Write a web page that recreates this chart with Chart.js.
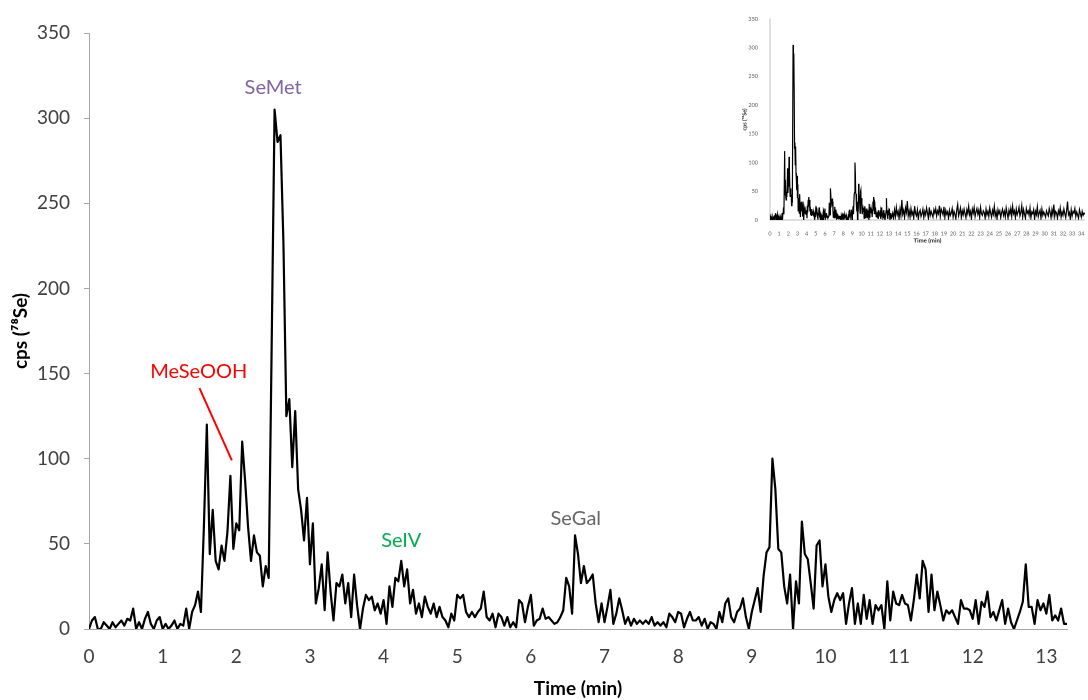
<!DOCTYPE html>
<html>
<head>
<meta charset="utf-8">
<title>Se speciation chromatogram</title>
<script src="https://cdn.jsdelivr.net/npm/chart.js@4.4.1/dist/chart.umd.min.js"></script>
<style>
  body { margin: 0; background: #fff; overflow: hidden; }
  #wrap { position: relative; width: 1088px; height: 700px; overflow: hidden; }
  #main { position: absolute; left: 0; top: 0; }
  /* overview is drawn at 2x and shrunk, so its tiny text stays legible */
  #overview { position: absolute; left: 735px; top: 5px; transform: scale(0.5); transform-origin: 0 0; }
</style>
</head>
<body>
<div id="wrap">
  <canvas id="main" width="1088" height="700"></canvas>
  <canvas id="overview" width="712" height="490"></canvas>
</div>
<script>
// ------------------------------------------------------------
// 78Se ICP-MS trace, 0–13.3 min, with full-run overview inset
// ------------------------------------------------------------

// sampling grid of the detector trace (min)
const STEP = 0.04;

// cps readings, one row per minute (25 samples each)
const cps = [
  0, 5, 7, 0, 0, 4, 2, 0, 4, 1, 3, 5, 2, 6, 5, 12, 0, 4, 0, 6, 10, 3, 0, 5, 7,                 // 0
  0, 3, 0, 2, 5, 0, 3, 2, 12, 0, 10, 14, 22, 10, 60, 120, 44, 70, 40, 35, 49, 40, 57, 90, 47,  // 1
  62, 58, 110, 87, 60, 40, 55, 45, 43, 25, 37, 30, 165, 305, 286, 290, 227, 125, 135, 95, 128, 82, 70, 52, 77, // 2
  38, 62, 15, 24, 38, 11, 45, 22, 5, 27, 25, 32, 15, 27, 7, 32, 14, 0, 12, 20, 17, 19, 11, 15, 9, // 3
  17, 3, 25, 13, 30, 28, 40, 25, 35, 15, 23, 9, 15, 7, 19, 13, 9, 15, 7, 13, 7, 5, 1, 9, 5,    // 4
  20, 18, 20, 10, 7, 10, 7, 10, 12, 22, 7, 5, 9, 1, 9, 7, 2, 7, 1, 4, 1, 17, 15, 4, 13,        // 5
  20, 2, 5, 6, 12, 6, 7, 5, 3, 4, 7, 11, 30, 25, 9, 55, 44, 27, 37, 27, 29, 32, 15, 4, 15,     // 6
  4, 13, 23, 3, 9, 18, 11, 3, 7, 2, 6, 3, 5, 3, 5, 3, 7, 2, 4, 2, 4, 1, 9, 7, 4,               // 7
  10, 9, 1, 6, 10, 5, 5, 7, 2, 6, 0, 4, 3, 0, 10, 4, 15, 18, 7, 4, 10, 12, 18, 7, 0,           // 8
  10, 17, 24, 10, 31, 45, 48, 100, 82, 47, 45, 25, 15, 32, 0, 28, 15, 63, 44, 41, 27, 12, 49, 52, 25, // 9
  38, 19, 10, 17, 21, 17, 21, 3, 15, 24, 3, 15, 3, 20, 6, 17, 3, 14, 11, 14, 0, 28, 5, 22, 15, // 10
  14, 20, 15, 14, 5, 17, 32, 18, 40, 35, 10, 32, 11, 22, 14, 5, 11, 9, 11, 7, 3, 17, 12, 12, 11, // 11
  6, 17, 3, 16, 13, 22, 7, 10, 5, 11, 17, 3, 12, 4, 0, 5, 10, 16, 38, 13, 13, 3, 17, 11, 15,   // 12
  9, 20, 5, 8, 5, 12, 3, 3                                                                      // 13
];

// rest of the run for the overview (13.4–34.4 min, every 0.1 min)
const TAIL_START = 13.4;
const TAIL_STEP = 0.1;
const cpsTail = [
  12, 3, 18, 6, 22, 9, 15, 2, 19, 8,
  35, 10, 17, 4, 21, 13, 33, 7, 16, 5,
  20, 9, 14, 3, 24, 11, 7, 18, 2, 13,
  17, 6, 11, 19, 4, 15, 9, 21, 12, 3,
  22, 8, 15, 10, 5, 18, 12, 20, 7, 16,
  11, 25, 6, 19, 14, 9, 23, 4, 17, 10,
  14, 3, 17, 8, 12, 20, 5, 15, 10, 2,
  18, 27, 7, 13, 21, 4, 16, 9, 19, 11,
  4, 18, 11, 24, 9, 15, 2, 19, 12, 22,
  6, 14, 20, 10, 17, 4, 22, 11, 8, 16,
  13, 3, 19, 9, 15, 6, 21, 12, 5, 17,
  10, 24, 7, 14, 2, 18, 11, 16, 4, 13,
  19, 8, 15, 5, 21, 12, 3, 17, 10, 20,
  6, 24, 11, 16, 4, 19, 9, 14, 22, 7,
  13, 25, 5, 18, 10, 3, 20, 12, 16, 8,
  21, 4, 14, 11, 18, 2, 15, 9, 23, 6,
  12, 17, 3, 19, 8, 14, 10, 5, 16, 11,
  7, 20, 13, 4, 18, 9, 27, 6, 15, 12,
  3, 16, 10, 21, 5, 14, 8, 19, 11, 4,
  17, 32, 9, 13, 2, 18, 7, 15, 12, 20,
  6, 14, 9, 3, 18, 11, 5, 15, 8, 12, 10
];

// species labels (time, cps) and their colours
const peakLabels = [
  { text: 'SeMet',   color: '#8064A2', t: 2.50, v: 318 },
  { text: 'MeSeOOH', color: '#FF0000', t: 1.49, v: 151 },
  { text: 'SeIV',    color: '#00B050', t: 4.24, v: 52 },
  { text: 'SeGal',   color: '#666666', t: 6.61, v: 65 },
];
// MeSeOOH pointer line, label -> shoulder
const pointer = [{ t: 1.50, v: 141.5 }, { t: 1.94, v: 99 }];

const FONT = 'Lato, "Open Sans", "DejaVu Sans", sans-serif';
Chart.defaults.font.family = FONT;

const mainPoints = cps.map((v, i) => ({ x: i * STEP, y: v }));
const overviewPoints = mainPoints.concat(cpsTail.map((v, i) => ({ x: TAIL_START + i * TAIL_STEP, y: v })));

const peakLabelPlugin = {
  id: 'peakLabels',
  afterDatasetsDraw(chart) {
    const { ctx, scales: { x, y } } = chart;
    ctx.save();
    ctx.font = '20px ' + FONT;
    ctx.textAlign = 'center';
    ctx.textBaseline = 'middle';
    peakLabels.forEach(p => {
      ctx.fillStyle = p.color;
      ctx.fillText(p.text, x.getPixelForValue(p.t), y.getPixelForValue(p.v));
    });
    ctx.strokeStyle = '#FF0000';
    ctx.lineWidth = 2;
    ctx.beginPath();
    ctx.moveTo(x.getPixelForValue(pointer[0].t), y.getPixelForValue(pointer[0].v));
    ctx.lineTo(x.getPixelForValue(pointer[1].t), y.getPixelForValue(pointer[1].v));
    ctx.stroke();
    ctx.restore();
  }
};

const axisGrey = '#a6a6a6';

new Chart(document.getElementById('main'), {
  type: 'line',
  data: {
    datasets: [{
      data: mainPoints,
      borderColor: '#000',
      borderWidth: 2.2,
      borderJoinStyle: 'round',
      pointRadius: 0,
      tension: 0,
      fill: false,
    }],
  },
  options: {
    responsive: false,
    animation: false,
    devicePixelRatio: 1,
    layout: { padding: { top: 33, right: 21, left: 0, bottom: 0 } },
    plugins: { legend: { display: false }, tooltip: { enabled: false } },
    scales: {
      x: {
        type: 'linear', min: 0, max: 13.28,
        afterFit: s => { s.height = 71; },
        grid: { display: false },
        border: { display: true, color: axisGrey, width: 1 },
        ticks: { stepSize: 1, includeBounds: false, autoSkip: false, maxRotation: 0, padding: 8, color: '#404040', font: { size: 19 } },
        title: { display: true, text: 'Time (min)', color: '#000', font: { size: 19, weight: 'bold' }, padding: { top: 0, bottom: 0 } },
      },
      y: {
        min: 0, max: 350,
        afterFit: s => { s.width = 89; },
        grid: { drawOnChartArea: false, drawTicks: true, tickLength: 5, color: axisGrey },
        border: { display: true, color: axisGrey, width: 1 },
        ticks: { stepSize: 50, padding: 14, color: '#404040', font: { size: 19 } },
        title: { display: true, text: 'cps (⁷⁸Se)', color: '#000', font: { size: 19, weight: 'bold' }, padding: { top: 9, bottom: 0 } },
      },
    },
  },
  plugins: [peakLabelPlugin],
});

// full 34 min run, small overview (all sizes at 2x, halved by CSS)
new Chart(document.getElementById('overview'), {
  type: 'line',
  data: {
    datasets: [{
      data: overviewPoints,
      borderColor: '#000',
      borderWidth: 2.4,
      pointRadius: 0,
      tension: 0,
      fill: false,
    }],
  },
  options: {
    responsive: false,
    animation: false,
    devicePixelRatio: 1,
    layout: { padding: { top: 28, right: 5.6, left: 0, bottom: 0 } },
    plugins: { legend: { display: false }, tooltip: { enabled: false } },
    scales: {
      x: {
        type: 'linear', min: 0, max: 34.4,
        afterFit: s => { s.height = 60; },
        grid: { display: false },
        border: { display: true, color: '#bfbfbf', width: 2 },
        ticks: { stepSize: 1, includeBounds: false, autoSkip: false, maxRotation: 0, padding: 13, color: '#595959', font: { size: 11 } },
        title: { display: true, text: 'Time (min)', color: '#222', font: { size: 12, weight: 'bold' }, padding: { top: 0, bottom: 12 } },
      },
      y: {
        min: 0, max: 350,
        afterFit: s => { s.width = 70; },
        grid: { display: false },
        border: { display: true, color: '#bfbfbf', width: 2 },
        ticks: { stepSize: 50, padding: 16, color: '#595959', font: { size: 11 } },
        title: { display: true, text: 'cps (⁷⁸Se)', color: '#222', font: { size: 11, weight: 'bold' }, padding: { top: 13, bottom: 0 } },
      },
    },
  },
});
</script>
</body>
</html>
